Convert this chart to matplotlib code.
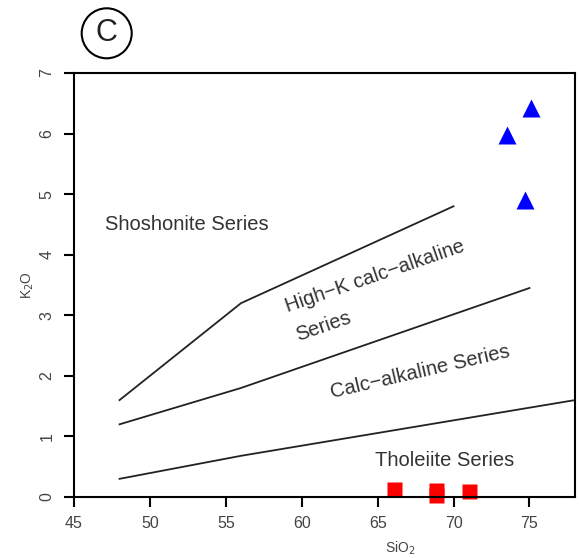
import matplotlib.pyplot as plt
from matplotlib.patches import Ellipse

plt.rcParams['font.family'] = ['Liberation Sans', 'DejaVu Sans']

# boundary lines (SiO2, K2O)
shoshonite_x = [48, 56, 70]
shoshonite_y = [1.6, 3.2, 4.8]
highk_x = [48, 56, 75]
highk_y = [1.2, 1.8, 3.45]
tholeiite_x = [48, 56, 78]
tholeiite_y = [0.3, 0.68, 1.6]

# samples
tri_sio2 = [75.07, 73.5, 74.73]
tri_k2o = [6.43, 5.98, 4.9]
sq_sio2 = [66.06, 68.86, 68.86, 71.0]
sq_k2o = [0.13, 0.11, 0.03, 0.10]

xticks = [45, 50, 55, 60, 65, 70, 75]
yticks = [0, 1, 2, 3, 4, 5, 6, 7]

fig = plt.figure(figsize=(5.79, 5.58), dpi=100)
ax = fig.add_axes([74 / 579, 1 - 497 / 558, (575 - 74) / 579, (497 - 73) / 558])

line_kw = dict(color='#222222', lw=1.3)
ax.plot(shoshonite_x, shoshonite_y, **line_kw)
ax.plot(highk_x, highk_y, **line_kw)
ax.plot(tholeiite_x, tholeiite_y, **line_kw)

ax.plot(tri_sio2, tri_k2o, '^', color='#0000ff', ms=12.5, mec='none', clip_on=False)
ax.plot(sq_sio2, sq_k2o, 's', color='#ff0000', ms=10.8, mec='none', clip_on=False, zorder=1)

txt = dict(color='#333333', fontsize=14.5)
ax.text(52.46, 4.41, 'Shoshonite Series', ha='center', va='baseline', **txt)
ax.text(59.06, 3.05, 'High\u2212K calc\u2212alkaline', ha='left', va='baseline',
        rotation=19, rotation_mode='anchor', **txt)
ax.text(59.74, 2.58, 'Series', ha='left', va='baseline',
        rotation=19, rotation_mode='anchor', **txt)
ax.text(62.0, 1.63, 'Calc\u2212alkaline Series', ha='left', va='baseline',
        rotation=13, rotation_mode='anchor', **txt)
ax.text(69.38, 0.51, 'Tholeiite Series', ha='center', va='baseline', **txt)

ax.set_xlim(45, 78)
ax.set_ylim(0, 7)
ax.set_xticks(xticks)
ax.set_yticks(yticks)
ax.tick_params(length=7, width=1.5, labelsize=11.5, labelcolor='#444444', pad=7)
ax.tick_params(axis='y', labelrotation=90)
for lab in ax.get_yticklabels():
    lab.set_va('center')
for s in ax.spines.values():
    s.set_linewidth(1.5)

fig.text(400 / 579, 1 - 548 / 558, 'SiO$_2$', ha='center', va='center',
         fontsize=10, color='#444444')
fig.text(28 / 579, 1 - 285 / 558, 'K$_2$O', ha='center', va='center',
         fontsize=10, color='#444444', rotation=90)

# panel label
fig.add_artist(Ellipse((106.7 / 579, 1 - 33.3 / 558), 50 / 579, 50 / 558,
                       transform=fig.transFigure, fc='none', ec='black', lw=1.5))
fig.text(106.7 / 579, 1 - 33.3 / 558, 'C', ha='center', va='center',
         fontsize=22, color='#222222')

fig.savefig('out.png', dpi=100)
